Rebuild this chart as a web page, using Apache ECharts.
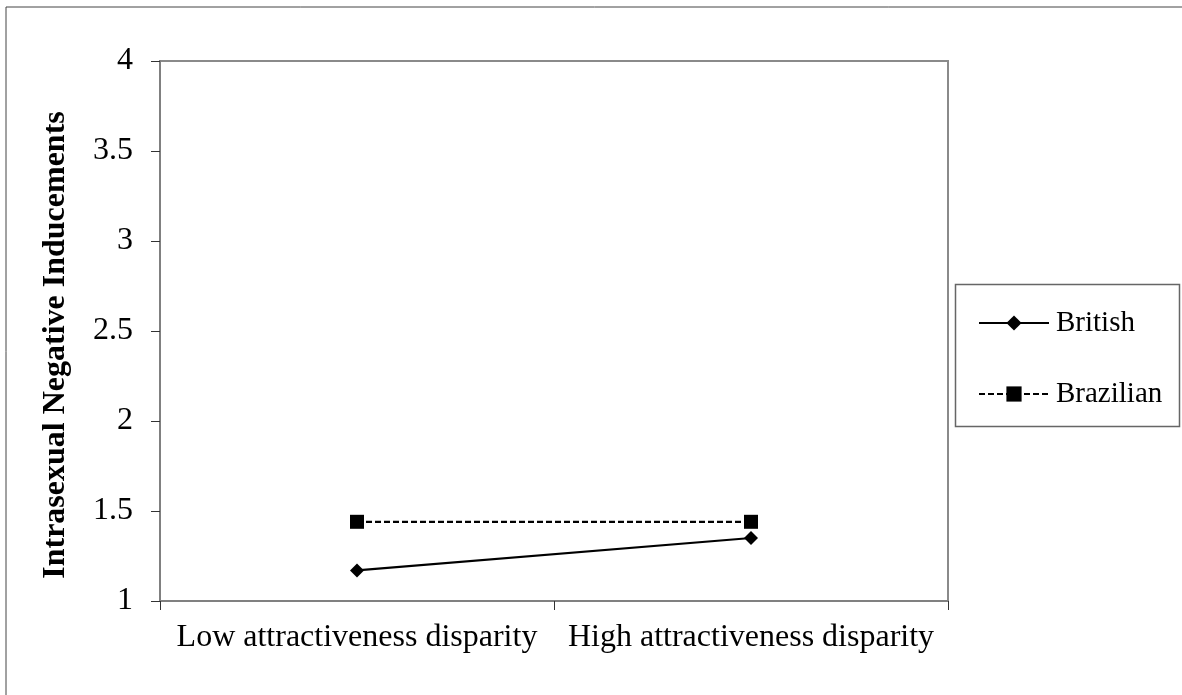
<!DOCTYPE html>
<html>
<head>
<meta charset="utf-8">
<script src="https://cdn.jsdelivr.net/npm/echarts@6/dist/echarts.min.js"></script>
<style>
html,body{margin:0;padding:0;background:#fff;}
#chart{width:1182px;height:695px;}
</style>
</head>
<body>
<div id="chart"></div>
<script>
const categories = ['Low attractiveness disparity', 'High attractiveness disparity'];
const britishValues = [1.17, 1.35];
const brazilianValues = [1.44, 1.44];
const seriesNames = ['British', 'Brazilian'];
const yAxisTitle = 'Intrasexual Negative Inducements';

const FONT = '"Liberation Serif", "Times New Roman", serif';

const chart = echarts.init(document.getElementById('chart'), null, {renderer: 'canvas'});
chart.setOption({
  backgroundColor: '#fff',
  animation: false,
  graphic: [
    { type: 'rect', silent: true, z: 0,
      shape: { x: 6, y: 7, width: 1300, height: 1000 },
      style: { fill: 'none', stroke: '#444', lineWidth: 1 } },
    { type: 'rect', silent: true, z: 0,
      shape: { x: 955.5, y: 284.5, width: 224, height: 142 },
      style: { fill: 'none', stroke: '#666', lineWidth: 1.5 } }
  ],
  grid: {
    left: 160, top: 61, right: 234, bottom: 94,
    show: true, borderColor: '#8a8a8a', borderWidth: 2, backgroundColor: 'transparent'
  },
  legend: {
    orient: 'vertical',
    left: 973, top: 303,
    itemWidth: 70, itemHeight: 19,
    itemGap: 41,
    lineStyle: { width: 2 },
    textStyle: { fontFamily: FONT, fontSize: 29, color: '#000', lineHeight: 30, padding: [0,0,0,2] },
    data: seriesNames
  },
  xAxis: {
    type: 'category',
    data: categories,
    boundaryGap: true,
    axisLine: { show: true, lineStyle: { color: '#808080', width: 2 } },
    axisTick: { show: true, length: 9, inside: false, interval: 0, alignWithLabel: false, lineStyle: { color: '#333', width: 1 } },
    axisLabel: { fontFamily: FONT, fontSize: 32, color: '#000', margin: 21, interval: 0 },
    splitLine: { show: false }
  },
  yAxis: {
    type: 'value',
    min: 1, max: 4, interval: 0.5,
    name: yAxisTitle,
    nameLocation: 'middle',
    nameGap: 88,
    nameTextStyle: { fontFamily: FONT, fontSize: 32, fontWeight: 'bold', color: '#000', padding: [0, 28, 0, 0] },
    axisLine: { show: true, lineStyle: { color: '#808080', width: 2 } },
    axisTick: { show: true, length: 9, inside: false, lineStyle: { color: '#333', width: 1 } },
    axisLabel: { fontFamily: FONT, fontSize: 32, color: '#000', margin: 27 },
    splitLine: { show: false }
  },
  series: [
    {
      name: seriesNames[0],
      type: 'line',
      data: britishValues,
      symbol: 'diamond',
      symbolSize: [14, 14],
      itemStyle: { color: '#000' },
      lineStyle: { color: '#000', width: 2.2, type: 'solid' }
    },
    {
      name: seriesNames[1],
      type: 'line',
      data: brazilianValues,
      symbol: 'rect',
      symbolSize: [14, 14],
      itemStyle: { color: '#000' },
      lineStyle: { color: '#000', width: 2.2, type: [6, 3] }
    }
  ]
});
</script>
</body>
</html>
